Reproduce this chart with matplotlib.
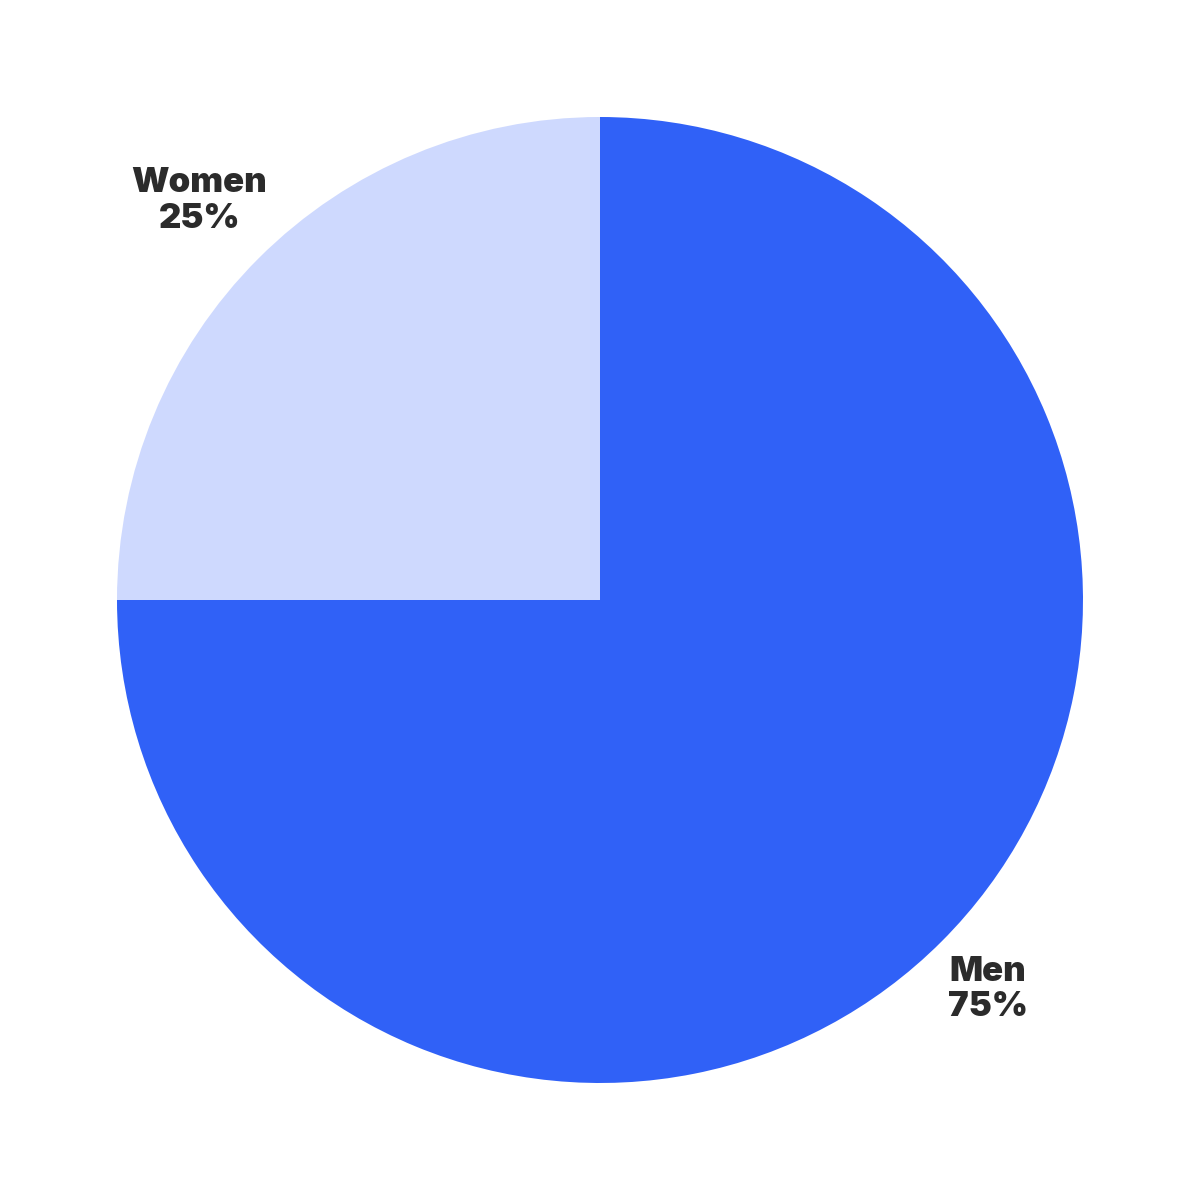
import numpy as np
import matplotlib
matplotlib.use('Agg')
import matplotlib.pyplot as plt

# Gender split
labels = ['Men', 'Women']
shares = [75, 25]
colors = ['#3061F7', '#CED9FE']
label_dist = [1.135, 1.173]

fig = plt.figure(figsize=(12, 12), dpi=100)
ax = fig.add_axes([0, 0, 1, 1])

wedges, _ = ax.pie(shares, colors=colors, startangle=90, counterclock=False,
                   radius=1, wedgeprops=dict(linewidth=0))

# labels outside the wedges, bold dark text
for w, lab, val, d in zip(wedges, labels, shares, label_dist):
    mid = np.deg2rad((w.theta1 + w.theta2) / 2)
    ax.text(d * np.cos(mid), d * np.sin(mid) - 0.0035, f'{lab}\n{val}%',
            ha='center', va='center', fontsize=25, fontweight='black',
            family=['Inter', 'DejaVu Sans'], color='#2b2b2b', linespacing=1.14)

lim = 600 / 483
ax.set_xlim(-lim, lim)
ax.set_ylim(-lim, lim)
ax.set_aspect('equal')
ax.axis('off')

fig.savefig('out.png', dpi=100, facecolor='white')
